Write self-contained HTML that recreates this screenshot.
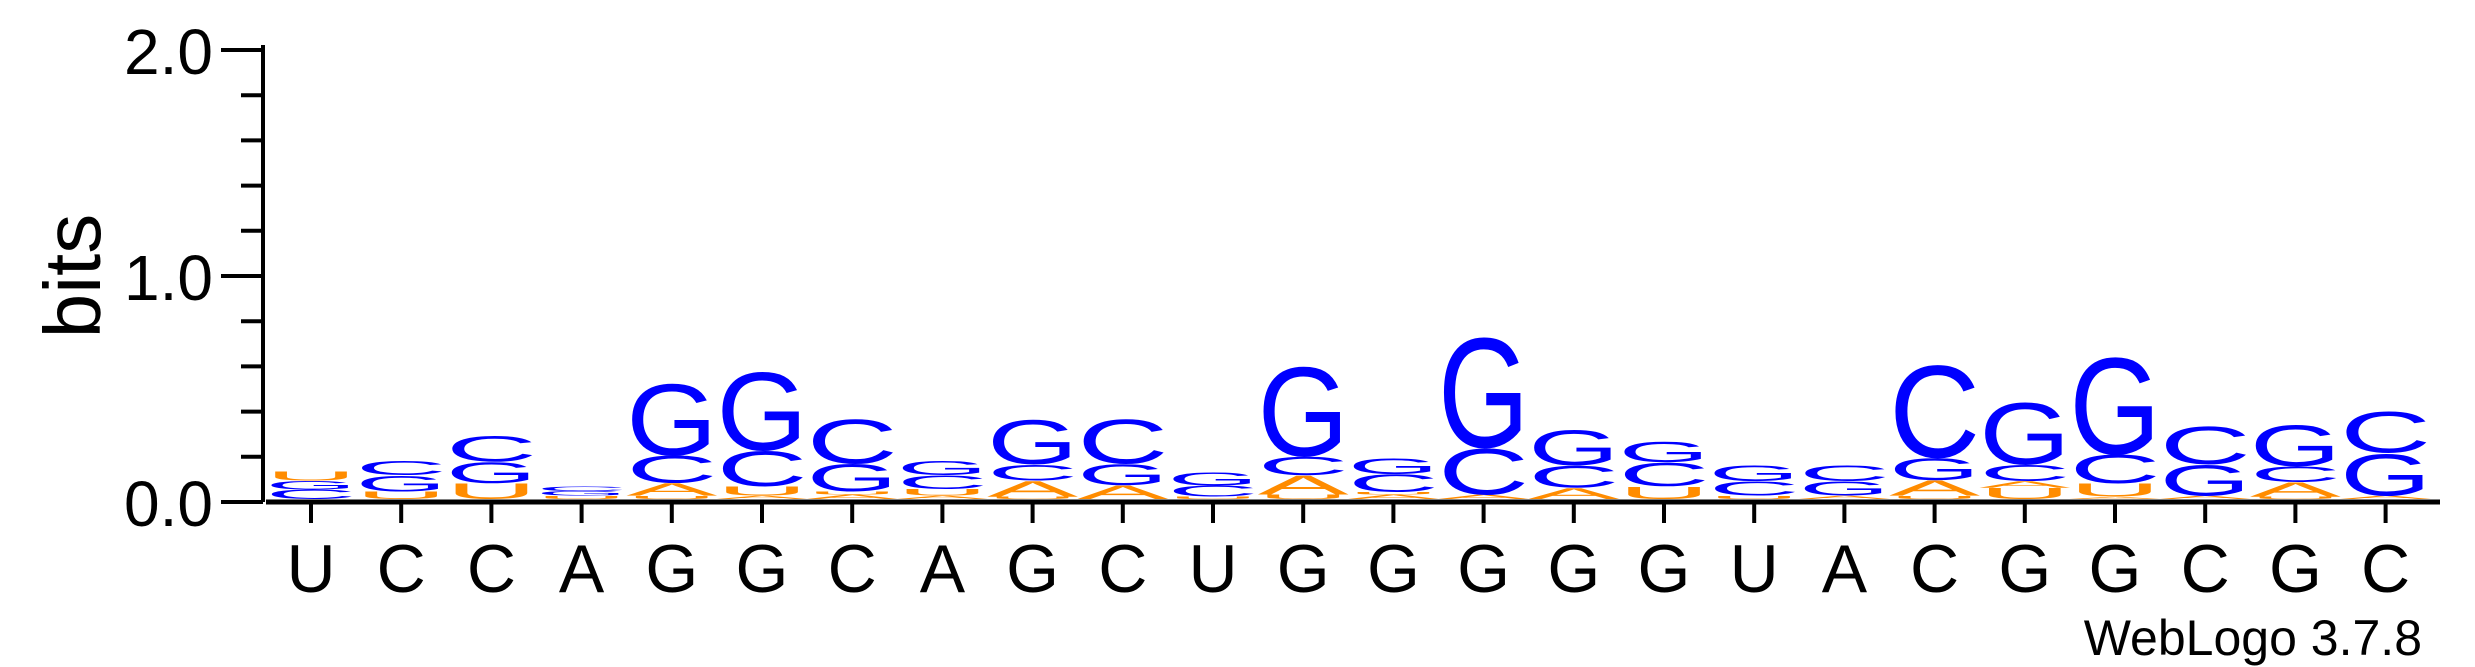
<!DOCTYPE html>
<html><head><meta charset="utf-8"><style>
html,body{margin:0;padding:0;background:#fff;}
svg{display:block;}
text{font-family:"Liberation Sans",Arial,sans-serif;}
</style></head><body>
<svg id="chart" width="2475" height="667" viewBox="0 0 2475 667" xmlns="http://www.w3.org/2000/svg">
<rect width="2475" height="667" fill="#fff"/>
<g id="yaxis"></g>
<g id="xaxis"></g>
<g id="stacks"></g>
<text x="100" y="276" font-size="80" text-anchor="middle" transform="rotate(-90 100 276)">bits</text>
<text x="2422" y="655" font-size="50" text-anchor="end">WebLogo 3.7.8</text>
</svg>
<script>
// consensus labels per position
const positions = ["U","C","C","A","G","G","C","A","G","C","U","G","G","G","G","G","U","A","C","G","G","C","G","C"];
// stacked letters per position, bottom to top
const stackLetters = [
 ["C","G","U"],["U","G","C"],["U","G","C"],["U","G","C"],
 ["U","A","C","G"],["A","U","C","G"],["A","U","G","C"],["A","U","C","G"],
 ["U","A","C","G"],["A","G","C"],["U","C","G"],["U","A","C","G"],
 ["A","U","C","G"],["A","C","G"],["A","C","G"],["U","C","G"],
 ["U","C","G"],["A","G","C"],["U","A","G","C"],["U","A","C","G"],
 ["A","U","C","G"],["A","G","C"],["U","A","C","G"],["A","G","C"]
];
// heights in bits matching stackLetters
const stackBits = [
 [0.043,0.038,0.042],[0.034,0.072,0.064],[0.07,0.095,0.115],[0.015,0.02,0.02],
 [0.015,0.057,0.123,0.325],[0.015,0.042,0.16,0.355],[0.02,0.015,0.123,0.2],[0.015,0.03,0.062,0.064],
 [0.01,0.072,0.072,0.2],[0.062,0.095,0.2],[0.01,0.05,0.06],[0.02,0.087,0.083,0.406],
 [0.02,0.01,0.08,0.07],[0.02,0.21,0.5],[0.05,0.1,0.16],[0.057,0.106,0.09],
 [0.015,0.065,0.07],[0.015,0.065,0.07],[0.015,0.07,0.1,0.42],[0.05,0.03,0.075,0.28],
 [0.01,0.06,0.13,0.44],[0.015,0.14,0.17],[0.01,0.066,0.07,0.185],[0.015,0.19,0.185]
];
const yTicks = [0,0.2,0.4,0.6,0.8,1.0,1.2,1.4,1.6,1.8,2.0];
const yLabels = ["0.0","1.0","2.0"];

const NS="http://www.w3.org/2000/svg";
const X0=311, DX=90.2, Y0=499, PPB=226, LW=82, AXX=263;
const xPos = i => X0 + DX*i;
const yPos = b => Y0 - b*PPB;
const colors={A:"#ff8c00",U:"#ff8c00",C:"#0000ff",G:"#0000ff"};
const adv={A:0.667,U:0.722,C:0.722,G:0.778};
function mk(tag,attrs,parent){const e=document.createElementNS(NS,tag);for(const k in attrs)e.setAttribute(k,attrs[k]);parent.appendChild(e);return e;}

const ya=document.getElementById('yaxis');
let l=mk('line',{x1:AXX,y1:yPos(2)-2,x2:AXX,y2:502,stroke:"#000","stroke-width":4},ya);


yTicks.forEach((t,i)=>{
  const major = (i%5===0);
  const tk=mk('line',{x1:major?221:241,y1:yPos(t)+3,x2:AXX,y2:yPos(t)+3,stroke:"#000","stroke-width":4},ya);
  
  
});
yLabels.forEach(s=>{
  const v=parseFloat(s);
  const t=mk('text',{x:213,y:yPos(v)+27,"font-size":64,"text-anchor":"end"},ya);
  t.textContent=s;
  
  
});

const xa=document.getElementById('xaxis');
l=mk('line',{x1:266,y1:502,x2:2440,y2:502,stroke:"#000","stroke-width":5},xa);


positions.forEach((p,i)=>{
  const tk=mk('line',{x1:xPos(i),y1:502,x2:xPos(i),y2:523,stroke:"#000","stroke-width":4},xa);
  
  
  const t=mk('text',{x:xPos(i),y:592,"font-size":68,"text-anchor":"middle"},xa);
  t.textContent=p;
  
  
});

const st=document.getElementById('stacks');
stackLetters.forEach((letters,i)=>{
  const g=mk('g',{},st);
  
  
  let cum=0;
  letters.forEach((L,j)=>{
    const h=stackBits[i][j]*PPB;
    const yb=yPos(cum);
    cum+=stackBits[i][j];
    if(h<0.5) return;
    const sx=LW/(adv[L]*100*0.9), sy=h/72;
    const t=mk('text',{x:0,y:0,"font-size":100,"text-anchor":"middle",fill:colors[L],
      transform:`translate(${xPos(i)},${yb}) scale(${sx},${sy})`},g);
    t.textContent=L;
    
    
  });
});
</script>
</body></html>
